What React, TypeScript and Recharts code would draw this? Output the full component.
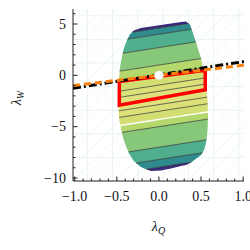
import React from "react";
import { ComposedChart, XAxis, YAxis, Area, Line, Scatter, CartesianGrid } from "recharts";

const X_DOMAIN: [number, number] = [-1.02, 1.01];
const Y_DOMAIN: [number, number] = [-10.29, 6.46];

const xMajorTicks = [-1, -0.5, 0, 0.5, 1];
const xAllTicks = [-1, -0.9, -0.8, -0.7, -0.6, -0.5, -0.4, -0.3, -0.2, -0.1, 0, 0.1, 0.2, 0.3, 0.4, 0.5, 0.6, 0.7, 0.8, 0.9, 1];
const yMajorTicks = [-10, -5, 0, 5];
const yAllTicks = [-10, -9, -8, -7, -6, -5, -4, -3, -2, -1, 0, 1, 2, 3, 4, 5, 6];

// allowed-region outline (upper and lower edge at the same lambda_Q samples)
const shapeX = [-0.476, -0.464, -0.44, -0.417, -0.381, -0.345, -0.298, -0.214, -0.095, 0.024, 0.143, 0.262, 0.321, 0.369, 0.405, 0.452, 0.5, 0.536, 0.56, 0.577, 0.583];
const shapeTop = [-0.68, 0.68, 1.75, 2.62, 3.4, 3.98, 4.37, 4.61, 4.76, 4.9, 5.05, 5.19, 5.24, 4.95, 4.08, 2.91, 1.65, 0.29, -1.07, -2.43, -3.59];
const shapeBottom = [-3.88, -4.66, -5.53, -6.31, -7.09, -7.77, -8.35, -8.93, -9.32, -9.27, -9.08, -8.83, -8.74, -8.54, -8.35, -8.06, -7.77, -7.28, -6.6, -5.34, -3.88];

// contour levels (lambda_W at lambda_Q = 0), common slope
const contourSlope = 1.27;
const contourLevels = [4.6, 4.0, 2.7, 1.0, 0.05, -0.95, -1.55, -2.2, -2.85, -3.5, -4.3, -5.0, -7.0, -8.2, -8.95];
const whiteLevel = -4.3;
const bandColors = [
  "#3a2a7c", "#2f8b8d", "#4fae8b", "#86c77a", "#b4d86c", "#d3de72", "#dbe078", "#e0e27c",
  "#e0e27c", "#dbe078", "#d3de72", "#b4d86c", "#86c77a", "#4fae8b", "#2f8b8d", "#3a2a7c",
];

// red box corners
const redBoxX = [-0.47, 0.55, 0.55, -0.47, -0.47];
const redBoxY = [-0.6, 0.5, -1.4, -2.91, -0.6];

// straight lines
const dashDotX = [-1.02, 1.01];
const dashDotY = [-1.26, 1.34];
const orangeX = [-1.02, 1.01];
const orangeY = [-1.0, 0.99];

// best fit point
const bestX = [0];
const bestY = [0];

// faint background mesh
const meshV = [-0.85, -0.55, -0.25, 0.05, 0.35, 0.65, 0.95];
const meshH = [-8, -5.7, -3.4, -1.1, 1.2, 3.5, 5.8];
const diagStarts = [-3.06, -2.89, -2.72, -2.55, -2.38, -2.21, -2.04, -1.87, -1.7, -1.53, -1.36, -1.19, -1.02, -0.85, -0.68, -0.51, -0.34, -0.17, 0, 0.17, 0.34, 0.51, 0.68, 0.85];
const diagRun = 2.04;

const interp = (ys: number[], x: number) => {
  for (let i = 0; i < shapeX.length - 1; i++) {
    if (x >= shapeX[i] - 1e-9 && x <= shapeX[i + 1] + 1e-9) {
      const t = (x - shapeX[i]) / (shapeX[i + 1] - shapeX[i]);
      return ys[i] + t * (ys[i + 1] - ys[i]);
    }
  }
  return NaN;
};
const lvl = (c: number, x: number) => c + contourSlope * x;
const crossings = (c: number) => {
  const out: number[] = [];
  [shapeTop, shapeBottom].forEach((ys) => {
    for (let i = 0; i < shapeX.length - 1; i++) {
      const d0 = ys[i] - lvl(c, shapeX[i]);
      const d1 = ys[i + 1] - lvl(c, shapeX[i + 1]);
      if (d0 * d1 < 0) out.push(shapeX[i] + ((shapeX[i + 1] - shapeX[i]) * d0) / (d0 - d1));
    }
  });
  return out;
};
const sampleXs = (levels: number[]) =>
  Array.from(new Set([...shapeX, ...levels.flatMap(crossings)])).sort((a, b) => a - b);

const bandData = (upper: number | null, lower: number | null) => {
  const lv = [upper, lower].filter((v) => v !== null) as number[];
  return sampleXs(lv).map((x) => {
    const t = interp(shapeTop, x);
    const b = interp(shapeBottom, x);
    const hi = upper === null ? t : Math.min(t, lvl(upper, x));
    const lo = lower === null ? b : Math.max(b, lvl(lower, x));
    return { x, r: lo <= hi ? [lo, hi] : [hi, hi] };
  });
};
const contourData = (c: number) =>
  sampleXs([c]).map((x) => {
    const y = lvl(c, x);
    const t = interp(shapeTop, x);
    const b = interp(shapeBottom, x);
    return { x, y: y <= t + 1e-6 && y >= b - 1e-6 ? y : null };
  });

const pts = (xs: number[], ys: number[]) => xs.map((x, i) => ({ x, y: ys[i] }));

const isIn = (v: number, arr: number[]) => arr.some((m) => Math.abs(m - v) < 1e-6);
const fmt = (v: number, d: number) => (v < 0 ? "\u2212" : "") + Math.abs(v).toFixed(d);

const FONT = "'Liberation Serif', 'DejaVu Serif', serif";
const AXIS = "#222";

const BottomTick = (p: any) => {
  const v = p.payload.value;
  const major = isIn(v, xMajorTicks);
  return (
    <g>
      <line x1={p.x} x2={p.x} y1={p.y} y2={p.y - (major ? 4.5 : 2.5)} stroke={AXIS} strokeWidth={1} />
      {major && (
        <text x={p.x} y={p.y + 20} textAnchor="middle" style={{ fontFamily: FONT }} fontSize={14} fill="#111">
          {fmt(v, 1)}
        </text>
      )}
    </g>
  );
};
const TopTick = (p: any) => {
  const major = isIn(p.payload.value, xMajorTicks);
  return <line x1={p.x} x2={p.x} y1={p.y} y2={p.y + (major ? 4.5 : 2.5)} stroke={AXIS} strokeWidth={1} />;
};
const LeftTick = (p: any) => {
  const v = p.payload.value;
  const major = isIn(v, yMajorTicks);
  return (
    <g>
      <line x1={p.x} x2={p.x + (major ? 4.5 : 2.5)} y1={p.y} y2={p.y} stroke={AXIS} strokeWidth={1} />
      {major && (
        <text x={p.x - 7} y={p.y + 4.8} textAnchor="end" style={{ fontFamily: FONT }} fontSize={14} fill="#111">
          {fmt(v, 0)}
        </text>
      )}
    </g>
  );
};
const RightTick = (p: any) => {
  const major = isIn(p.payload.value, yMajorTicks);
  return <line x1={p.x} x2={p.x - (major ? 4.5 : 2.5)} y1={p.y} y2={p.y} stroke={AXIS} strokeWidth={1} />;
};

export default function App() {
  const bands = bandColors.map((color, k) => ({
    color,
    data: bandData(k === 0 ? null : contourLevels[k - 1], k === contourLevels.length ? null : contourLevels[k]),
  }));
  return (
    <div style={{ position: "absolute", left: 0, top: 0, width: 250, height: 250, background: "#fff" }}>
      <ComposedChart width={250} height={250} margin={{ top: 9, right: 6, bottom: 0, left: 0 }}>
        <CartesianGrid stroke="#dcecec" strokeWidth={0.6} horizontalValues={meshH} verticalValues={meshV} />
        <XAxis
          xAxisId={0}
          dataKey="x"
          type="number"
          domain={X_DOMAIN}
          allowDataOverflow
          ticks={xAllTicks}
          interval={0}
          tickSize={0}
          tickMargin={0}
          tickLine={false}
          tick={BottomTick}
          height={69}
          axisLine={{ stroke: AXIS, strokeWidth: 1 }}
        />
        <XAxis
          xAxisId="top"
          orientation="top"
          dataKey="x"
          type="number"
          domain={X_DOMAIN}
          allowDataOverflow
          ticks={xAllTicks}
          interval={0}
          tickSize={0}
          tickMargin={0}
          tickLine={false}
          tick={TopTick}
          height={0}
          axisLine={{ stroke: AXIS, strokeWidth: 1 }}
        />
        <YAxis
          yAxisId={0}
          type="number"
          domain={Y_DOMAIN}
          allowDataOverflow
          ticks={yAllTicks}
          interval={0}
          tickSize={0}
          tickMargin={0}
          tickLine={false}
          tick={LeftTick}
          width={73}
          axisLine={{ stroke: AXIS, strokeWidth: 1 }}
        />
        <YAxis
          yAxisId="right"
          orientation="right"
          type="number"
          domain={Y_DOMAIN}
          allowDataOverflow
          ticks={yAllTicks}
          interval={0}
          tickSize={0}
          tickMargin={0}
          tickLine={false}
          tick={RightTick}
          width={0}
          axisLine={{ stroke: AXIS, strokeWidth: 1 }}
        />
        {diagStarts.map((s, i) => (
          <Line
            key={"d" + i}
            data={[
              { x: s, y: Y_DOMAIN[0] },
              { x: s + diagRun, y: Y_DOMAIN[1] },
            ]}
            dataKey="y"
            stroke="#e2efef"
            strokeWidth={0.6}
            dot={false}
            activeDot={false}
            isAnimationActive={false}
            zIndex={50}
          />
        ))}
        {bands.map((b, i) => (
          <Area
            key={"b" + i}
            data={b.data}
            dataKey="r"
            type="linear"
            fill={b.color}
            fillOpacity={1}
            stroke="none"
            isAnimationActive={false}
            zIndex={100}
          />
        ))}
        {contourLevels.map((c, i) => (
          <Line
            key={"c" + i}
            data={contourData(c)}
            dataKey="y"
            type="linear"
            stroke={c === whiteLevel ? "#ffffff" : "#2a2a2a"}
            strokeWidth={c === whiteLevel ? 1.4 : 0.8}
            strokeOpacity={c === whiteLevel ? 1 : 0.85}
            dot={false}
            activeDot={false}
            connectNulls={false}
            isAnimationActive={false}
            zIndex={110}
          />
        ))}
        <Line
          data={pts(redBoxX, redBoxY)}
          dataKey="y"
          type="linear"
          stroke="#ff0000"
          strokeWidth={3.5}
          strokeLinejoin="miter"
          dot={false}
          activeDot={false}
          isAnimationActive={false}
          zIndex={120}
        />
        <Line
          data={pts(dashDotX, dashDotY)}
          dataKey="y"
          type="linear"
          stroke="#000000"
          strokeWidth={3}
          strokeDasharray="8 3 2 3"
          dot={false}
          activeDot={false}
          isAnimationActive={false}
          zIndex={130}
        />
        <Line
          data={pts(orangeX, orangeY)}
          dataKey="y"
          type="linear"
          stroke="#f7820f"
          strokeWidth={3}
          strokeDasharray="7 4"
          dot={false}
          activeDot={false}
          isAnimationActive={false}
          zIndex={140}
        />
        <Scatter
          data={pts(bestX, bestY)}
          dataKey="y"
          fill="#ffffff"
          shape={(p: any) => <circle cx={p.cx} cy={p.cy} r={4.5} fill="#ffffff" stroke="#d8d8d8" strokeWidth={0.6} />}
          isAnimationActive={false}
          zIndex={150}
        />
        <text x={158.5} y={231} textAnchor="middle" style={{ fontFamily: FONT }} fontSize={14} fill="#111">
          <tspan fontStyle="italic">λ</tspan>
          <tspan fontStyle="italic" fontSize={10} dy={3}>Q</tspan>
        </text>
        <text
          x={21}
          y={98}
          transform="rotate(-90 21 98)"
          textAnchor="middle"
          style={{ fontFamily: FONT }}
          fontSize={14}
          fill="#111"
        >
          <tspan fontStyle="italic">λ</tspan>
          <tspan fontStyle="italic" fontSize={10} dy={3}>W</tspan>
        </text>
      </ComposedChart>
    </div>
  );
}
